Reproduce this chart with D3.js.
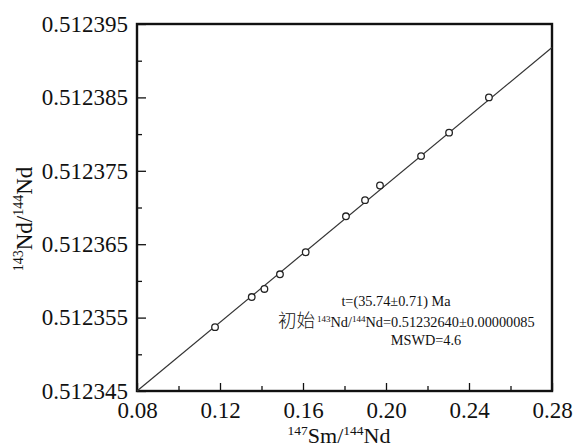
<!DOCTYPE html>
<html><head><meta charset="utf-8">
<script src="https://cdn.jsdelivr.net/npm/d3@7/dist/d3.min.js"></script>
<style>
body{margin:0;background:#fff;}
svg{display:block;font-family:"Liberation Serif","Times New Roman",serif;}
</style></head>
<body><svg id="c" width="579" height="447"></svg>
<script>
// Data
const smNd = [0.1176,0.1353,0.1414,0.1489,0.1613,0.1807,0.1899,0.1971,0.2169,0.2304,0.2496];
const ndNd = [0.5123537,0.5123578,0.5123589,0.5123609,0.5123639,0.5123688,0.5123710,0.5123730,0.5123770,0.5123802,0.5123850];
const fitX = [0.08,0.28];
const fitY = [0.5123450,0.5123918];
const xTicks = [0.08,0.12,0.16,0.20,0.24,0.28];
const xMinor = [0.10,0.14,0.18,0.22,0.26];
const yTicks = [0.512345,0.512355,0.512365,0.512375,0.512385,0.512395];
const yMinor = [0.512350,0.512360,0.512370,0.512380,0.512390];
const annot = ["t=(35.74±0.71) Ma","0.51232640±0.00000085","MSWD=4.6"];

const svg = d3.select("#c");
const L=137,R=552,T=24,B=391;
const x = d3.scaleLinear().domain([0.08,0.28]).range([L,R]);
const y = d3.scaleLinear().domain([0.512345,0.512395]).range([B,T]);

// axes with inward ticks
const gx = svg.append("g").attr("transform",`translate(0,${B})`)
  .call(d3.axisBottom(x).tickValues(xTicks).tickFormat(d3.format(".2f")).tickSizeInner(-8).tickSizeOuter(0).tickPadding(11));
svg.append("g").attr("transform",`translate(0,${B})`)
  .call(d3.axisBottom(x).tickValues(xMinor).tickFormat("").tickSizeInner(-5).tickSizeOuter(0));
const gy = svg.append("g").attr("transform",`translate(${L},0)`)
  .call(d3.axisLeft(y).tickValues(yTicks).tickFormat(d3.format(".6f")).tickSizeInner(-9).tickSizeOuter(0).tickPadding(9));
svg.append("g").attr("transform",`translate(${L},0)`)
  .call(d3.axisLeft(y).tickValues(yMinor).tickFormat("").tickSizeInner(-5).tickSizeOuter(0));
svg.selectAll(".domain").remove();
svg.selectAll(".tick line").attr("stroke","#111").attr("stroke-width",1.3);
svg.selectAll(".tick text").attr("font-family","Liberation Serif, Times New Roman, serif").attr("font-size",23).attr("fill","#111");
gx.selectAll(".tick text").attr("dy","0.71em");

// frame
svg.append("rect").attr("x",L).attr("y",T).attr("width",R-L).attr("height",B-T)
  .attr("fill","none").attr("stroke","#111").attr("stroke-width",2.4);

// fit line
svg.append("line").attr("x1",x(fitX[0])).attr("y1",y(fitY[0])).attr("x2",x(fitX[1])).attr("y2",y(fitY[1]))
  .attr("stroke","#333").attr("stroke-width",1.2);

// points
svg.selectAll("circle.p").data(smNd).enter().append("circle")
  .attr("cx",d=>x(d)).attr("cy",(d,i)=>y(ndNd[i])).attr("r",3.3)
  .attr("fill","#fff").attr("stroke","#222").attr("stroke-width",1.3);

// axis titles
const xt = svg.append("text").attr("x",339).attr("y",443).attr("text-anchor","middle").attr("font-size",22).attr("fill","#111");
xt.append("tspan").attr("font-size",13.5).attr("dy","-8").text("147");
xt.append("tspan").attr("dy","8").text("Sm/");
xt.append("tspan").attr("font-size",13.5).attr("dy","-8").text("144");
xt.append("tspan").attr("dy","8").text("Nd");

const yt = svg.append("text").attr("transform","translate(32,219) rotate(-90)").attr("text-anchor","middle").attr("font-size",23).attr("fill","#111");
yt.append("tspan").attr("font-size",14).attr("dy","-9").text("143");
yt.append("tspan").attr("dy","9").text("Nd/");
yt.append("tspan").attr("font-size",14).attr("dy","-9").text("144");
yt.append("tspan").attr("dy","9").text("Nd");

// annotation
svg.append("text").attr("x",396).attr("y",306).attr("text-anchor","middle").attr("font-size",14.3).attr("fill","#111").text(annot[0]);
const a2 = svg.append("text").attr("x",278).attr("y",327).attr("font-size",14.3).attr("fill","#111");
a2.append("tspan").attr("font-family","Noto Sans CJK SC").attr("font-size",18.5).attr("font-weight",300).text("初始");
a2.append("tspan").attr("font-size",9).attr("dy","-5").attr("dx","2").text("143");
a2.append("tspan").attr("dy","5").text("Nd/");
a2.append("tspan").attr("font-size",9).attr("dy","-5").text("144");
a2.append("tspan").attr("dy","5").text("Nd=" + annot[1]);
svg.append("text").attr("x",426).attr("y",345).attr("text-anchor","middle").attr("font-size",14.3).attr("fill","#111").text(annot[2]);
</script></body></html>
